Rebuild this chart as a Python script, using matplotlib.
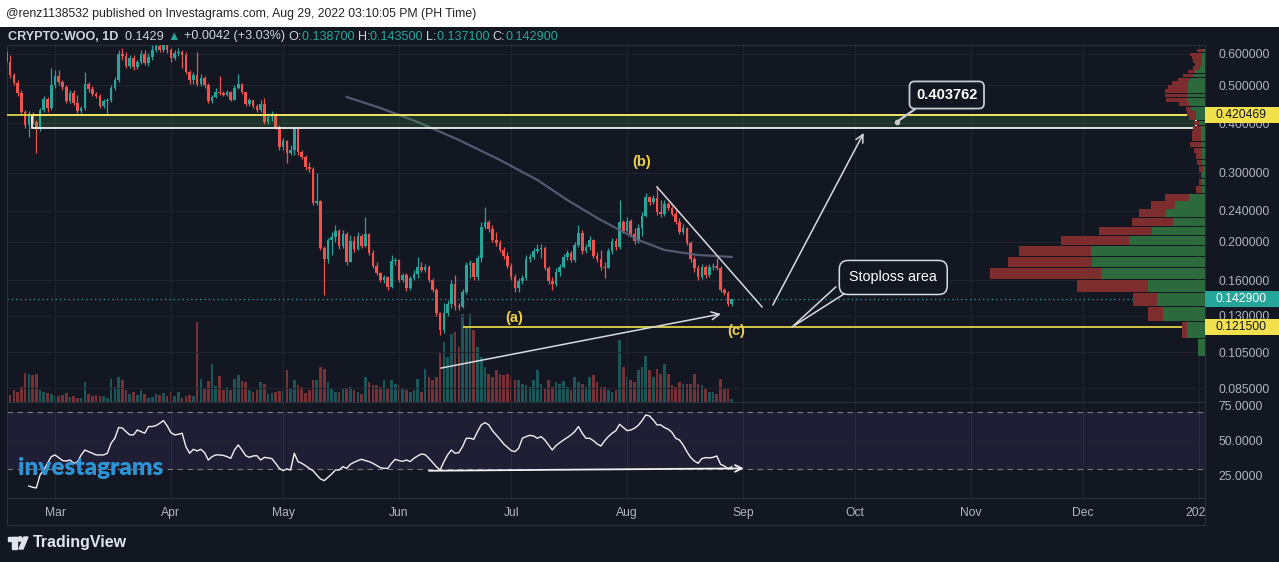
import matplotlib
matplotlib.use('Agg')
import matplotlib.pyplot as plt
import matplotlib.dates as mdates
import matplotlib.transforms as mtransforms
from matplotlib.patches import Rectangle, Circle, Polygon
from matplotlib.ticker import NullLocator
import numpy as np
import pandas as pd

plt.rcParams['font.family'] = ['Liberation Sans', 'DejaVu Sans']

W, H = 1279, 562

# ---- daily candles, CRYPTO:WOO 1D, from 2022-02-16 ----
first_open = 0.6069
close = [0.5726, 0.5307, 0.5065, 0.4777, 0.4275, 0.3962, 0.4225, 0.4032, 0.3870, 0.4325,
         0.4612, 0.4376, 0.5005, 0.5276, 0.5094, 0.4947, 0.4558, 0.4777, 0.4505, 0.4300,
         0.4376, 0.5035, 0.4890, 0.4749, 0.4694, 0.4427, 0.4558, 0.4585, 0.4918, 0.5154,
         0.6000, 0.5930, 0.5593, 0.5861, 0.5561, 0.5726, 0.6000, 0.5692, 0.5896, 0.6140,
         0.6285, 0.6140, 0.6322, 0.6140, 0.5861, 0.6035, 0.6069, 0.5965, 0.5401, 0.5154,
         0.5307, 0.5035, 0.5215, 0.5005, 0.4558, 0.4666, 0.4805, 0.4777, 0.4721, 0.4805,
         0.4585, 0.4918, 0.5035, 0.4805, 0.4479, 0.4585, 0.4427, 0.4325, 0.4479, 0.4032,
         0.4151, 0.4225, 0.3916, 0.3484, 0.3608, 0.3364, 0.3423, 0.3870, 0.3384, 0.3286,
         0.3099, 0.3063, 0.2511, 0.2540, 0.1930, 0.1809, 0.2022, 0.2058, 0.2132, 0.1952,
         0.2094, 0.1778, 0.2010, 0.1918, 0.2070, 0.1952, 0.2094, 0.1874, 0.1737, 0.1667,
         0.1600, 0.1629, 0.1536, 0.1788, 0.1799, 0.1600, 0.1648, 0.1527, 0.1619, 0.1657,
         0.1727, 0.1697, 0.1727, 0.1600, 0.1509, 0.1320, 0.1195, 0.1320, 0.1391, 0.1563,
         0.1375, 0.1367, 0.1492, 0.1747, 0.1768, 0.1629, 0.1820, 0.2182, 0.2247, 0.2157,
         0.2022, 0.1987, 0.1907, 0.1841, 0.1737, 0.1629, 0.1527, 0.1591, 0.1619, 0.1809,
         0.1831, 0.1896, 0.1918, 0.1930, 0.1717, 0.1591, 0.1563, 0.1677, 0.1727, 0.1831,
         0.1874, 0.1799, 0.1964, 0.2107, 0.1896, 0.1941, 0.2022, 0.1841, 0.1809, 0.1727,
         0.1717, 0.1896, 0.2010, 0.1941, 0.2247, 0.2132, 0.2260, 0.2094, 0.2010, 0.2169,
         0.2327, 0.2601, 0.2526, 0.2586, 0.2382, 0.2355, 0.2496, 0.2439, 0.2355, 0.2247,
         0.2119, 0.2169, 0.1987, 0.1809, 0.1717, 0.1629, 0.1727, 0.1648, 0.1727, 0.1737,
         0.1717, 0.1509, 0.1483, 0.1387, 0.1429]
high = [0.6212, 0.5965, 0.5369, 0.5154, 0.4861, 0.4325, 0.4300, 0.4275, 0.4079, 0.4376,
        0.4694, 0.4666, 0.5528, 0.5464, 0.5464, 0.5154, 0.5005, 0.4861, 0.4861, 0.4721,
        0.4427, 0.5401, 0.5094, 0.4976, 0.4805, 0.4749, 0.4612, 0.4639, 0.5005, 0.5245,
        0.6140, 0.6212, 0.6069, 0.5965, 0.5965, 0.5793, 0.6140, 0.6140, 0.6035, 0.6322,
        0.6510, 0.6434, 0.6510, 0.6434, 0.6212, 0.6140, 0.6212, 0.6140, 0.6069, 0.5464,
        0.5401, 0.6069, 0.5338, 0.5276, 0.5065, 0.4721, 0.4918, 0.5276, 0.4833, 0.4861,
        0.4833, 0.5005, 0.5338, 0.5065, 0.4805, 0.4639, 0.4585, 0.4479, 0.4585, 0.4639,
        0.4250, 0.4300, 0.4250, 0.3962, 0.3672, 0.3629, 0.3525, 0.3916, 0.3916, 0.3423,
        0.3324, 0.3191, 0.3099, 0.2992, 0.2555, 0.1952, 0.2046, 0.2119, 0.2208, 0.2157,
        0.2144, 0.2119, 0.2082, 0.2070, 0.2119, 0.2094, 0.2314, 0.2107, 0.1907, 0.1778,
        0.1677, 0.1648, 0.1638, 0.1852, 0.1820, 0.1809, 0.1667, 0.1667, 0.1638, 0.1697,
        0.1831, 0.1778, 0.1757, 0.1747, 0.1619, 0.1527, 0.1328, 0.1399, 0.1424, 0.1600,
        0.1648, 0.1399, 0.1518, 0.1778, 0.1799, 0.1778, 0.1852, 0.2247, 0.2453, 0.2273,
        0.2208, 0.2119, 0.2022, 0.1941, 0.1885, 0.1768, 0.1657, 0.1619, 0.1648, 0.1852,
        0.1863, 0.1930, 0.1975, 0.1975, 0.1952, 0.1737, 0.1629, 0.1717, 0.1757, 0.1863,
        0.1907, 0.1896, 0.1999, 0.2208, 0.2144, 0.1975, 0.2070, 0.2034, 0.1885, 0.1907,
        0.1778, 0.1930, 0.2046, 0.2046, 0.2555, 0.2273, 0.2314, 0.2287, 0.2169, 0.2221,
        0.2382, 0.2662, 0.2616, 0.2631, 0.2758, 0.2555, 0.2555, 0.2526, 0.2467, 0.2410,
        0.2300, 0.2221, 0.2182, 0.2010, 0.1841, 0.1747, 0.1757, 0.1747, 0.1757, 0.1768,
        0.1820, 0.1737, 0.1527, 0.1500, 0.1435]
low = [0.5626, 0.5215, 0.5005, 0.4694, 0.4225, 0.3893, 0.3694, 0.3985, 0.3364, 0.3825,
       0.4275, 0.4275, 0.4325, 0.4918, 0.5005, 0.4861, 0.4505, 0.4505, 0.4453, 0.4250,
       0.4250, 0.4325, 0.4805, 0.4694, 0.4639, 0.4376, 0.4376, 0.4225, 0.4532, 0.4861,
       0.5094, 0.5793, 0.5528, 0.5528, 0.5464, 0.5496, 0.5659, 0.5626, 0.5593, 0.5793,
       0.6069, 0.6069, 0.6069, 0.6035, 0.5726, 0.5793, 0.5930, 0.5528, 0.5338, 0.5035,
       0.5035, 0.4976, 0.4976, 0.4918, 0.4505, 0.4505, 0.4639, 0.4721, 0.4694, 0.4694,
       0.4558, 0.4585, 0.4890, 0.4749, 0.4427, 0.4427, 0.4376, 0.4275, 0.4275, 0.3985,
       0.3985, 0.4055, 0.3870, 0.3423, 0.3423, 0.3173, 0.3324, 0.3324, 0.3324, 0.3248,
       0.3045, 0.3010, 0.2482, 0.2482, 0.1907, 0.1466, 0.1768, 0.1852, 0.1999, 0.1918,
       0.1930, 0.1747, 0.1778, 0.1885, 0.1907, 0.1930, 0.1941, 0.1852, 0.1717, 0.1648,
       0.1582, 0.1572, 0.1509, 0.1527, 0.1747, 0.1582, 0.1582, 0.1500, 0.1509, 0.1600,
       0.1619, 0.1677, 0.1677, 0.1582, 0.1492, 0.1297, 0.1160, 0.1174, 0.1297, 0.1359,
       0.1343, 0.1343, 0.1359, 0.1474, 0.1619, 0.1600, 0.1600, 0.1778, 0.2157, 0.2119,
       0.1999, 0.1952, 0.1885, 0.1809, 0.1717, 0.1600, 0.1492, 0.1492, 0.1563, 0.1600,
       0.1778, 0.1809, 0.1874, 0.1820, 0.1697, 0.1563, 0.1509, 0.1545, 0.1638, 0.1717,
       0.1799, 0.1778, 0.1778, 0.1941, 0.1863, 0.1874, 0.1907, 0.1820, 0.1778, 0.1697,
       0.1619, 0.1717, 0.1863, 0.1907, 0.1918, 0.2107, 0.2119, 0.2070, 0.1975, 0.1987,
       0.2070, 0.2314, 0.2482, 0.2496, 0.2341, 0.2314, 0.2327, 0.2410, 0.2327, 0.2221,
       0.2094, 0.2094, 0.1964, 0.1778, 0.1677, 0.1600, 0.1610, 0.1619, 0.1629, 0.1697,
       0.1697, 0.1492, 0.1466, 0.1375, 0.1371]
volume = [0.4, 0.7, 1.2, 1.0, 1.5, 2.9, 2.8, 2.7, 2.8, 1.2,
          1.0, 0.9, 0.8, 0.6, 0.6, 0.7, 0.9, 0.5, 0.6, 0.4,
          0.4, 2.0, 0.8, 0.6, 0.7, 0.6, 0.6, 0.4, 2.3, 1.5,
          2.5, 2.2, 1.2, 0.8, 1.0, 0.7, 1.2, 0.8, 0.4, 0.5,
          0.8, 0.7, 0.9, 0.6, 1.0, 0.6, 1.0, 0.4, 0.6, 0.7,
          0.6, 8.0, 2.3, 1.3, 2.1, 3.8, 1.6, 2.6, 1.2, 1.5,
          1.2, 2.3, 2.7, 2.1, 2.0, 1.2, 1.0, 1.2, 2.0, 1.8,
          0.8, 0.9, 1.0, 1.1, 1.1, 3.2, 1.3, 2.2, 1.7, 1.5,
          0.9, 1.2, 2.2, 2.2, 3.5, 3.3, 2.0, 1.3, 1.0, 1.0,
          1.3, 1.3, 1.5, 1.2, 1.0, 0.8, 2.5, 2.0, 1.7, 1.7,
          1.5, 2.2, 1.3, 2.2, 1.8, 1.7, 1.3, 1.2, 1.0, 1.2,
          2.3, 1.0, 3.3, 2.5, 2.2, 2.5, 5.0, 6.0, 4.5, 6.8,
          7.0, 5.5, 8.8, 7.5, 8.8, 7.2, 5.5, 4.5, 3.5, 2.8,
          2.5, 3.2, 2.8, 2.7, 2.8, 2.5, 2.2, 2.2, 1.8, 1.7,
          1.5, 2.2, 3.2, 1.8, 1.3, 2.2, 1.5, 2.0, 1.8, 2.1,
          1.5, 1.2, 2.5, 2.0, 1.8, 1.5, 2.5, 2.7, 2.0, 1.5,
          1.5, 1.2, 1.0, 1.2, 6.2, 3.5, 2.5, 2.2, 2.0, 3.2,
          3.5, 4.6, 3.2, 2.5, 3.3, 2.8, 3.8, 2.8, 1.7, 1.5,
          2.0, 1.8, 1.8, 1.8, 2.8, 1.8, 1.7, 1.3, 1.0, 1.0,
          0.8, 2.3, 1.3, 1.3, 0.3]
rsi = [None] * 6 + [
    17.9, 17.0, 16.5, 25.7, 29.3, 34.0, 38.7, 39.9, 38.0, 35.9,
    35.6, 36.3, 34.0, 34.9, 39.9, 43.4, 42.2, 41.1, 39.9, 39.9,
    39.9, 41.1, 48.2, 51.7, 59.3, 59.0, 56.4, 54.1, 54.1, 57.6,
    56.4, 55.3, 60.0, 60.0, 60.7, 62.3, 64.2, 60.5, 55.7, 54.1,
    54.5, 55.3, 45.8, 41.1, 43.9, 42.7, 43.9, 41.5, 36.3, 38.7,
    39.9, 39.9, 39.6, 38.7, 37.5, 43.4, 47.0, 43.4, 39.4, 38.2,
    39.2, 39.4, 36.3, 38.2, 37.8, 37.3, 34.0, 30.4, 28.8, 30.0,
    29.2, 41.1, 35.1, 34.0, 32.3, 30.4, 28.8, 25.7, 22.9, 21.7,
    24.1, 26.4, 29.2, 29.2, 31.6, 30.4, 33.3, 34.7, 35.9, 36.8,
    35.9, 35.2, 34.0, 32.5, 30.9, 30.4, 30.4, 34.0, 36.8, 35.9,
    35.4, 36.3, 35.2, 37.5, 39.2, 40.6, 40.1, 37.5, 34.5, 31.6,
    29.2, 35.1, 39.9, 43.4, 41.1, 41.5, 45.8, 51.7, 51.7, 51.0,
    56.4, 61.2, 62.8, 61.2, 57.1, 54.1, 51.0, 47.7, 45.3, 43.0,
    42.2, 44.6, 51.7, 52.9, 53.8, 53.3, 51.7, 52.9, 50.5, 47.0,
    43.4, 46.5, 48.6, 50.5, 52.2, 54.1, 56.4, 60.0, 55.3, 51.7,
    51.7, 50.0, 47.7, 46.2, 50.0, 52.9, 55.3, 57.1, 61.6, 59.3,
    57.1, 57.6, 58.8, 60.9, 64.2, 68.2, 67.5, 64.7, 61.2, 61.2,
    59.3, 58.1, 55.9, 51.7, 50.5, 47.0, 42.2, 38.2, 35.6, 34.0,
    37.3, 38.0, 37.8, 38.2, 39.2, 33.3, 32.1, 30.0, 31.6]

# moving average read at a few candles (index into the candle list)
ma_idx = [91, 100, 110, 121, 132, 142, 150, 158, 164, 169, 176, 185, 194]
ma_vals = [0.4666, 0.4376, 0.4032, 0.3629, 0.3229, 0.2872, 0.2555, 0.2300,
           0.2144, 0.2022, 0.1907, 0.1852, 0.1831]

# visible-range volume profile (rows from the bottom)
row_bottom = 0.1026
row_size = 0.0117
prof_up = [7, 18, 42, 48, 57, 104, 113, 114, 76, 53, 32, 39, 30, 16, 3, 3, 3, 2, 3, 3, 3, 4,
           4, 4, 4, 6, 9, 9, 13, 16, 18, 18, 17, 17, 17, 15, 12, 10, 5, 3, 3, 3, 3, 2]
prof_down = [0, 5, 15, 24, 71, 111, 84, 72, 68, 53, 41, 27, 24, 24, 6, 3, 1, 4, 5, 6, 8, 11,
             9, 9, 8, 5, 7, 9, 6, 10, 21, 22, 23, 20, 16, 12, 10, 7, 7, 7, 9, 10, 12, 6]

price_ticks = [0.085, 0.105, 0.13, 0.16, 0.2, 0.24, 0.3, 0.4, 0.5, 0.6]
rsi_ticks = [25, 50, 75]
month_ticks = ['2022-03-01', '2022-04-01', '2022-05-01', '2022-06-01', '2022-07-01', '2022-08-01',
               '2022-09-01', '2022-10-01', '2022-11-01', '2022-12-01', '2023-01-01']
month_labels = ['Mar', 'Apr', 'May', 'Jun', 'Jul', 'Aug', 'Sep', 'Oct', 'Nov', 'Dec', '2023']

teal = '#26a69a'
red = '#ef5350'
bg = '#131722'
grid_c = '#21242f'
txt_c = '#b2b5be'
border = '#2a2e39'
yellow = '#f2e14c'
label_yel = '#f0cf4a'
draw_c = '#d8dae0'


def box(x0, y0, x1, y1):
    return [x0 / W, 1 - y1 / H, (x1 - x0) / W, (y1 - y0) / H]


fig = plt.figure(figsize=(W / 100, H / 100), dpi=100, facecolor=bg)

dates = pd.date_range('2022-02-16', periods=len(close))
x = mdates.date2num(dates)
o = np.array([first_open] + close[:-1])
c = np.array(close)
hi = np.array(high)
lo = np.array(low)
col = np.where(c >= o, teal, red)
mticks = mdates.date2num(pd.to_datetime(month_ticks))

mar1 = mdates.date2num(pd.Timestamp('2022-03-01'))
xlim = (mar1 - 12.84, mar1 + 307.57)
ylim = (0.0784, 0.6324)


def xpos(n):
    # position in candle units counted from the first candle
    return x[0] + n


# ---- price pane ----
ax = fig.add_axes(box(7, 45, 1205, 402))
ax_vol = ax.twinx()
ax_vol.set_zorder(0)
ax.set_zorder(1)
ax.patch.set_visible(False)
ax_vol.set_facecolor(bg)

ax_vol.bar(x, volume, width=0.7, color=col, alpha=0.45, lw=0)
ax_vol.set_ylim(0, 35.7)
ax_vol.set_yticks([])
for s in ax_vol.spines.values():
    s.set_visible(False)

ax.set_yscale('log')
ax.set_ylim(*ylim)
ax.set_xlim(*xlim)
ax.set_xticks(mticks)
ax.tick_params(axis='x', labelbottom=False, length=0)
ax.yaxis.tick_right()
ax.set_yticks(price_ticks)
ax.yaxis.set_minor_locator(NullLocator())
ax.set_yticklabels([f'{p:.6f}' for p in price_ticks])
ax.tick_params(axis='y', colors=txt_c, labelsize=8.7, length=0, pad=10)
ax.grid(True, color=grid_c, lw=0.8)
ax.set_axisbelow(True)
for s in ax.spines.values():
    s.set_color(border)

ax.vlines(x, lo, hi, colors=col, lw=0.9, zorder=3)
body = np.maximum(np.abs(c - o), np.minimum(o, c) * 0.004)
ax.bar(x, body, bottom=np.minimum(o, c), width=0.7, color=col, lw=0, zorder=4)

ax.plot(x[ma_idx], ma_vals, color='#5d6079', lw=1.6, alpha=0.9, zorder=5)

# drawings
ax.add_patch(Rectangle((xpos(6.8), 0.389), 311.3, 0.4205 - 0.389, facecolor=(0.30, 0.69, 0.31, 0.18),
                       edgecolor='white', lw=1.2, zorder=6))
ax.axhline(0.420469, color=yellow, lw=1.2, zorder=7)
ax.hlines(0.1215, xpos(122.1), xlim[1], color=yellow, lw=1.2, zorder=7)
ax.axhline(0.1429, color=teal, lw=0.9, ls=(0, (1, 2.5)), zorder=2)

ax.plot([xpos(174.0), xpos(202.1)], [0.2758, 0.1367], color=draw_c, lw=1.1, zorder=8)
arrow = dict(arrowstyle='->', color=draw_c, lw=1.1, shrinkA=0, shrinkB=0, mutation_scale=14)
ax.annotate('', xy=(xpos(229.3), 0.3781), xytext=(xpos(205.0), 0.1383), arrowprops=arrow, zorder=8)
ax.annotate('', xy=(xpos(191.1), 0.1312), xytext=(xpos(116.2), 0.0956), arrowprops=arrow, zorder=8)

for n, p, s in [(135.7, 0.1281, '(a)'), (170.0, 0.3191, '(b)'), (195.1, 0.1188, '(c)')]:
    ax.text(xpos(n), p, s, color=label_yel, fontsize=10.5, fontweight='bold', ha='center', va='center', zorder=9)

ax.plot(xpos(238.2), 0.403762, 'o', ms=3, color='#c8cad0', zorder=9)
ax.annotate('0.403762', xy=(xpos(238.2), 0.403762), xytext=(xpos(251.5), 0.4721), ha='center', va='center',
            color='white', fontsize=10.5, fontweight='bold', zorder=9,
            bbox=dict(boxstyle='round,pad=0.45,rounding_size=0.35', fc=bg, ec='#c8cad0', lw=1.3),
            arrowprops=dict(arrowstyle='-', color='#c8cad0', lw=1.6, shrinkA=0, shrinkB=0, relpos=(0.15, 0)))

ax.text(xpos(237.2), 0.1624, 'Stoploss area', color='white', fontsize=10.3, ha='center', va='center', zorder=9,
        bbox=dict(boxstyle='round,pad=0.7,rounding_size=0.6', fc=bg, ec=draw_c, lw=1.1))
ax.plot([xpos(221.8), xpos(210.1), xpos(224.0)], [0.1536, 0.1215, 0.1474], color=draw_c, lw=1.1, zorder=8)

# volume profile on the right edge
ax_prof = fig.add_axes(box(7, 45, 1205, 402))
ax_prof.set_zorder(2)
ax_prof.patch.set_visible(False)
ax_prof.axis('off')
ax_prof.set_yscale('log')
ax_prof.set_ylim(*ylim)
ax_prof.set_xlim(1198, 0)
edges = row_bottom + row_size * np.arange(len(prof_up))
ax_prof.barh(edges, prof_up, height=row_size * 0.9, left=0, align='edge', color='#2c6a3e', lw=0)
ax_prof.barh(edges, prof_down, height=row_size * 0.9, left=prof_up, align='edge', color='#7d2d2e', lw=0)

# ---- RSI pane ----
ax_rsi = fig.add_axes(box(7, 402, 1205, 498), sharex=ax)
ax_rsi.set_facecolor(bg)
ax_rsi.set_ylim(9.4, 77.4)
ax_rsi.axhspan(30, 70, color='#7e57c2', alpha=0.12, lw=0)
ax_rsi.axhline(70, color='#787b86', lw=0.8, ls=(0, (5, 4)))
ax_rsi.axhline(30, color='#787b86', lw=0.8, ls=(0, (5, 4)))
ax_rsi.axhline(50, color=grid_c, lw=0.8)
for m in mticks:
    ax_rsi.axvline(m, color=grid_c, lw=0.8, zorder=0)
ax_rsi.plot(x, np.array(rsi, dtype=float), color='#f0f0f0', lw=1.0)
ax_rsi.annotate('', xy=(xpos(197.2), 30.4), xytext=(xpos(113.0), 28.7),
                arrowprops=dict(arrowstyle='->', color='#f0f0f0', lw=1.3, shrinkA=0, shrinkB=0, mutation_scale=12))
ax_rsi.yaxis.tick_right()
ax_rsi.set_yticks(rsi_ticks)
ax_rsi.set_yticklabels([f'{v:.4f}' for v in rsi_ticks])
ax_rsi.tick_params(axis='y', colors=txt_c, labelsize=8.7, length=0, pad=10)
ax_rsi.tick_params(axis='x', labelbottom=False, length=0)
for s in ax_rsi.spines.values():
    s.set_color(border)

fig.text(18 / W, 1 - 468 / H, 'investagrams', color='#2d93d4', fontsize=17.5, fontweight='heavy',
         family=['Lato', 'DejaVu Sans'], va='center', ha='left', zorder=6)

# ---- date axis ----
ax_d = fig.add_axes(box(7, 498, 1205, 525), sharex=ax)
ax_d.set_facecolor(bg)
ax_d.set_yticks([])
ax_d.tick_params(axis='x', labelbottom=False, length=0)
for s in ax_d.spines.values():
    s.set_color(border)
dtrans = mtransforms.blended_transform_factory(ax_d.transData, ax_d.transAxes)
for m, lab in zip(mticks, month_labels):
    ax_d.text(m, 0.33, lab, transform=dtrans, ha='center', va='baseline', color=txt_c, fontsize=8.7, clip_on=True)

# ---- header / footer ----
fig.patches.append(Rectangle((0, 1 - 27 / H), 1, 27 / H, transform=fig.transFigure,
                             facecolor='white', edgecolor='none', zorder=5))
fig.text(6 / W, 1 - 14 / H, '@renz1138532 published on Investagrams.com, Aug 29, 2022 03:10:05 PM (PH Time)',
         color='#222222', fontsize=8.8, va='center', ha='left', zorder=6)

renderer = fig.canvas.get_renderer()
light = '#d1d4dc'
pieces = [('CRYPTO:WOO, 1D  ', light), ('0.1429 ', light), ('\u25b2 ', teal), ('+0.0042 (+3.03%) ', light),
          ('O:', light), ('0.138700 ', teal), ('H:', light), ('0.143500 ', teal),
          ('L:', light), ('0.137100 ', teal), ('C:', light), ('0.142900', teal)]
xcur = 8
for s, colr in pieces:
    t = fig.text(xcur / W, 1 - 36.5 / H, s, color=colr, fontsize=9.1, va='center', ha='left',
                 fontweight='bold' if s.startswith('CRYPTO') else 'normal', zorder=6)
    xcur = t.get_window_extent(renderer).x1

# price-axis value tags
for p, s, fc, tc in [(0.420469, '0.420469', yellow, '#131722'), (0.1429, '0.142900', teal, 'white'),
                     (0.1215, '0.121500', yellow, '#131722')]:
    yd = ax.transData.transform((xlim[0], p))[1]
    fig.patches.append(Rectangle((1205, yd - 8), 74, 16, transform=mtransforms.IdentityTransform(),
                                 facecolor=fc, edgecolor='none', zorder=5))
    fig.text(1215 / W, yd / H, s, color=tc, fontsize=8.7, va='center', ha='left', zorder=6)

# TradingView logo
fig.patches.append(Rectangle((8, H - 541), 9, 4, transform=mtransforms.IdentityTransform(), color='#e0e3eb', zorder=5))
fig.patches.append(Rectangle((12, H - 549), 5, 12, transform=mtransforms.IdentityTransform(), color='#e0e3eb', zorder=5))
fig.patches.append(Circle((20, H - 539), 2.2, transform=mtransforms.IdentityTransform(), color='#e0e3eb', zorder=5))
fig.patches.append(Polygon([(19, H - 549), (24, H - 537), (28, H - 537), (23, H - 549)],
                           transform=mtransforms.IdentityTransform(), color='#e0e3eb', zorder=5))
fig.text(33 / W, 1 - 543 / H, 'TradingView', color='#e0e3eb', fontsize=11.5, fontweight='bold',
         va='center', ha='left', zorder=6)

fig.savefig('out.png', dpi=100, facecolor=bg)
